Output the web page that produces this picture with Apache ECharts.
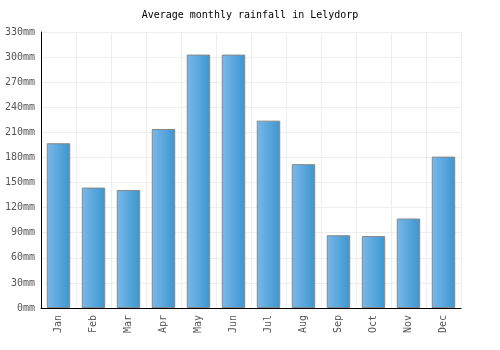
<!DOCTYPE html>
<html>
<head>
<meta charset="utf-8">
<script src="https://cdn.jsdelivr.net/npm/echarts@6/dist/echarts.min.js"></script>
<style>
  html, body { margin: 0; padding: 0; background: #fff; }
  #chart { width: 500px; height: 350px; }
</style>
</head>
<body>
<div id="chart"></div>
<script>
const months = ['Jan', 'Feb', 'Mar', 'Apr', 'May', 'Jun', 'Jul', 'Aug', 'Sep', 'Oct', 'Nov', 'Dec'];
const rainfall = [197, 144, 141, 214, 303, 303, 224, 172, 87, 86, 107, 181];
const font = '"DejaVu Sans Mono", monospace';

const chart = echarts.init(document.getElementById('chart'));
chart.setOption({
  animation: false,
  title: {
    text: 'Average monthly rainfall in Lelydorp',
    left: 'center',
    top: 5,
    textStyle: { fontFamily: font, fontSize: 10, fontWeight: 'normal', color: '#000' }
  },
  grid: { left: 41, right: 39, top: 32, bottom: 42 },
  xAxis: {
    type: 'category',
    data: months,
    axisLine: { lineStyle: { color: '#000', width: 1 } },
    axisTick: { show: false },
    axisLabel: { rotate: 90, fontFamily: font, fontSize: 10, color: '#555', margin: 7 },
    splitLine: { show: true, lineStyle: { color: '#eee' } }
  },
  yAxis: {
    type: 'value',
    min: 0,
    max: 330,
    interval: 30,
    axisLine: { show: true, lineStyle: { color: '#000', width: 1 } },
    axisTick: { show: false },
    axisLabel: { formatter: '{value}mm', fontFamily: font, fontSize: 10, color: '#555', margin: 6 },
    splitLine: { lineStyle: { color: '#eee' } }
  },
  series: [{
    type: 'bar',
    data: rainfall,
    barCategoryGap: '33%',
    itemStyle: {
      borderColor: '#888',
      borderWidth: 1,
      color: new echarts.graphic.LinearGradient(0, 0, 1, 0, [
        { offset: 0, color: '#7ab8ea' },
        { offset: 1, color: '#3b96cf' }
      ])
    }
  }]
});
</script>
</body>
</html>
